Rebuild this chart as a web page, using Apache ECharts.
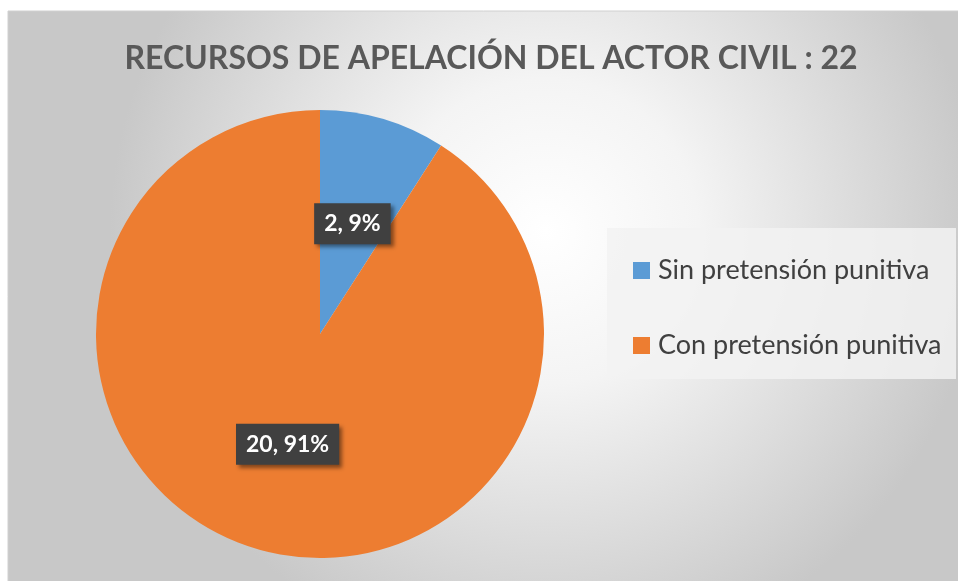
<!DOCTYPE html>
<html>
<head>
<meta charset="utf-8">
<script src="https://cdn.jsdelivr.net/npm/echarts@6/dist/echarts.min.js"></script>
<style>
  html, body { margin: 0; padding: 0; background: #fff; }
  #chart { width: 958px; height: 581px; }
</style>
</head>
<body>
<div id="chart"></div>
<script>
// datos del gráfico
var categorias = ['Sin pretensión punitiva', 'Con pretensión punitiva'];
var valores = [2, 20];
var colores = ['#5B9BD5', '#ED7D31'];
var titulo = 'RECURSOS DE APELACIÓN DEL ACTOR CIVIL : 22';

var myChart = echarts.init(document.getElementById('chart'));

var datos = [];
for (var i = 0; i < categorias.length; i++) {
    datos.push({ name: categorias[i], value: valores[i], itemStyle: { color: colores[i] } });
}

option = {
    animation: false,
    graphic: [
        {
            // fondo del área del gráfico
            type: 'rect',
            z: -10,
            shape: { x: 8, y: 11, width: 960, height: 580 },
            style: {
                fill: {
                    type: 'radial', x: 0.56, y: 0.38, r: 0.75,
                    colorStops: [
                        { offset: 0, color: '#ffffff' },
                        { offset: 0.35, color: '#f4f4f4' },
                        { offset: 1, color: '#c8c8c8' }
                    ]
                },
                stroke: '#d0d0d0',
                lineWidth: 1
            }
        },
        {
            // caja de la leyenda
            type: 'rect',
            z: -5,
            shape: { x: 607, y: 228, width: 349, height: 151 },
            style: { fill: 'rgba(242,242,242,0.85)' }
        }
    ],
    title: {
        text: titulo,
        left: 486,
        textAlign: 'center',
        top: 38,
        textStyle: {
            fontFamily: 'Lato',
            fontWeight: 'bold',
            fontSize: 32,
            color: '#595959'
        }
    },
    legend: {
        orient: 'vertical',
        left: 628,
        top: 252,
        itemWidth: 17,
        itemHeight: 17,
        itemGap: 48,
        icon: 'rect',
        textStyle: {
            fontFamily: 'Lato',
            fontSize: 27,
            color: '#404040',
            padding: [0, 0, 0, 3]
        },
        data: categorias
    },
    series: [
        {
            name: 'Recursos',
            type: 'pie',
            center: [320, 334],
            radius: 224,
            startAngle: 90,
            clockwise: true,
            percentPrecision: 0,
            data: datos,
            label: {
                show: true,
                position: 'inside',
                formatter: '{c}, {d}%',
                fontFamily: 'Lato',
                fontWeight: 'bold',
                fontSize: 23,
                color: '#ffffff',
                backgroundColor: '#404040',
                padding: [10, 10, 8, 10],
                shadowBlur: 4,
                shadowOffsetX: 3,
                shadowOffsetY: 3,
                shadowColor: 'rgba(0,0,0,0.45)'
            },
            labelLine: { show: false },
            emphasis: { disabled: true }
        }
    ]
};

myChart.setOption(option);
window.addEventListener('resize', function () {
    myChart.resize();
});
</script>
</body>
</html>
